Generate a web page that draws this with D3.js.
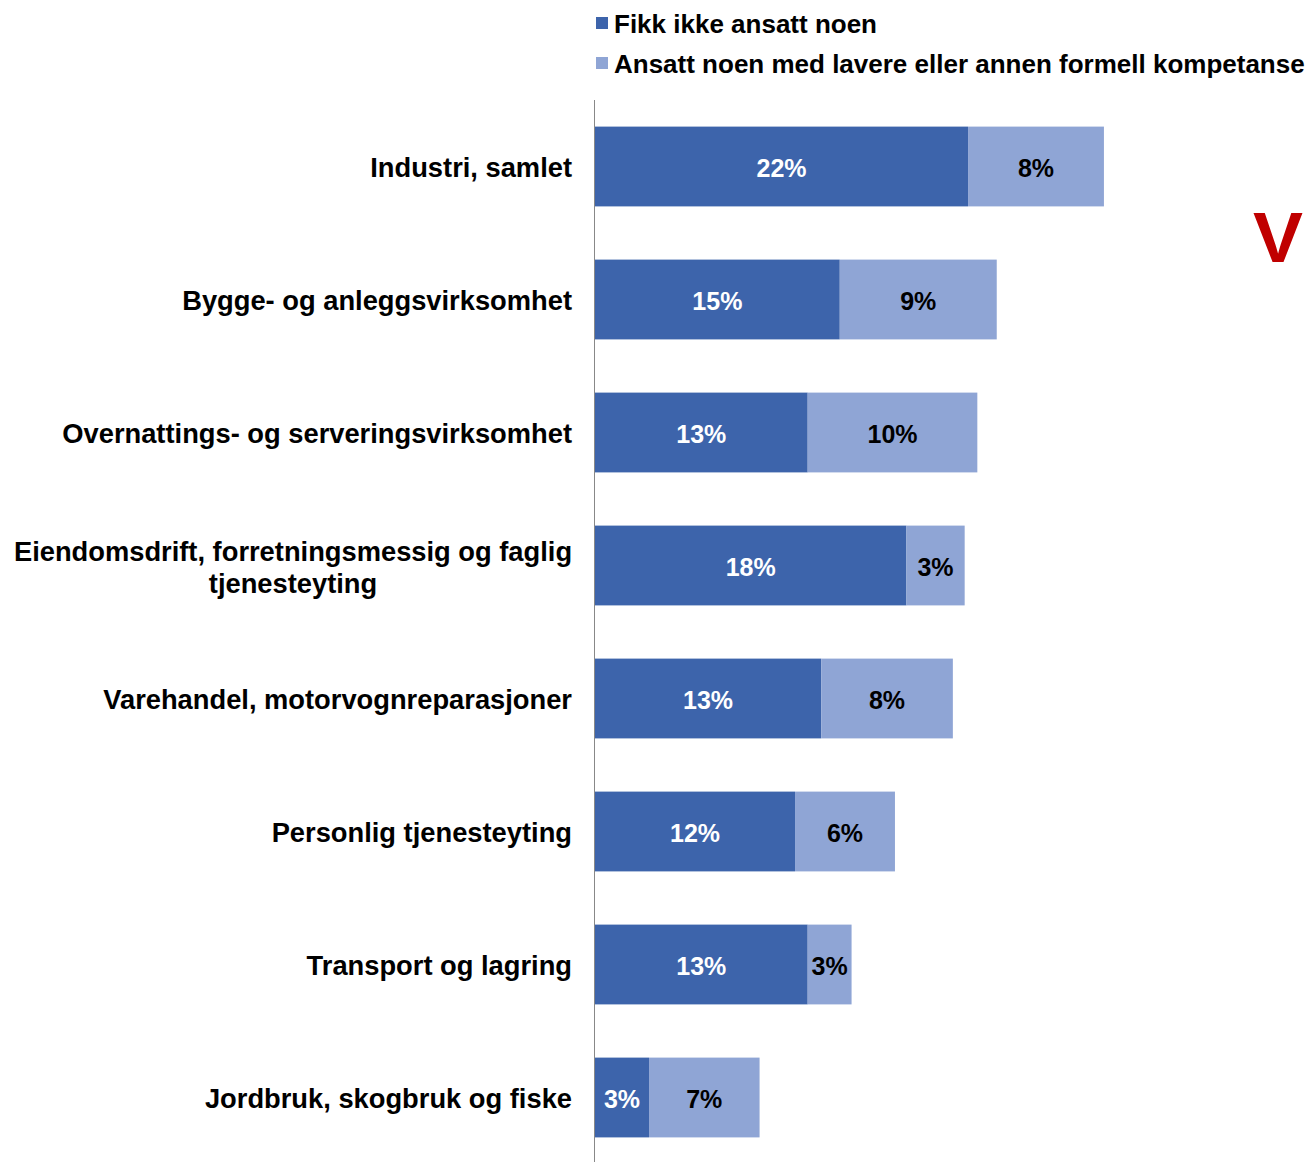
<!DOCTYPE html>
<html><head><meta charset="utf-8">
<script src="https://cdn.jsdelivr.net/npm/d3@7"></script>
<style>body{margin:0;background:#fff;} svg{display:block;}</style>
</head><body>
<script>
const categories = [
  "Industri, samlet",
  "Bygge- og anleggsvirksomhet",
  "Overnattings- og serveringsvirksomhet",
  "Eiendomsdrift, forretningsmessig og faglig\ntjenesteyting",
  "Varehandel, motorvognreparasjoner",
  "Personlig tjenesteyting",
  "Transport og lagring",
  "Jordbruk, skogbruk og fiske"
];
const seriesNames = ["Fikk ikke ansatt noen", "Ansatt noen med lavere eller annen formell kompetanse"];
const fikkIkke = [22.1, 14.5, 12.6, 18.45, 13.4, 11.85, 12.6, 3.2];
const ansattLavere = [8.05, 9.3, 10.05, 3.45, 7.8, 5.92, 2.6, 6.55];
const colors = ["#3D64AB", "#8FA5D5"];

const W = 1311, H = 1162;
const svg = d3.select("body").append("svg").attr("width", W).attr("height", H);
const font = "'Liberation Sans', Arial, sans-serif";

const x = d3.scaleLinear().domain([0, 40]).range([595, 595 + 40 * 16.88]);
const y = d3.scaleBand().domain(categories).range([100, 1164]).paddingInner(0.4).paddingOuter(0.2);

const rows = categories.map((c, i) => ({c, a: fikkIkke[i], b: ansattLavere[i]}));

// bars
const g = svg.append("g");
rows.forEach(r => {
  g.append("rect").attr("x", x(0)).attr("y", y(r.c)).attr("width", x(r.a) - x(0)).attr("height", y.bandwidth()).attr("fill", colors[0]);
  g.append("rect").attr("x", x(r.a)).attr("y", y(r.c)).attr("width", x(r.a + r.b) - x(r.a)).attr("height", y.bandwidth()).attr("fill", colors[1]);
  g.append("text").attr("x", (x(0) + x(r.a)) / 2).attr("y", y(r.c) + y.bandwidth() / 2 + 10)
    .attr("text-anchor", "middle").attr("font-family", font).attr("font-weight", "bold").attr("font-size", 25)
    .attr("fill", "#fff").text(Math.round(r.a) + "%");
  g.append("text").attr("x", (x(r.a) + x(r.a + r.b)) / 2).attr("y", y(r.c) + y.bandwidth() / 2 + 10)
    .attr("text-anchor", "middle").attr("font-family", font).attr("font-weight", "bold").attr("font-size", 25)
    .attr("fill", "#000").text(Math.round(r.b) + "%");
});

// axis line
svg.append("line").attr("x1", x(0) - 0.5).attr("x2", x(0) - 0.5).attr("y1", 100).attr("y2", H).attr("stroke", "#888").attr("stroke-width", 1);

// category labels
rows.forEach(r => {
  const lines = r.c.split("\n");
  const cy = y(r.c) + y.bandwidth() / 2;
  const t = svg.append("text").attr("font-family", font).attr("font-weight", "bold").attr("font-size", 27.3).attr("fill", "#000");
  if (lines.length === 1) {
    t.attr("x", 572).attr("y", cy + 10).attr("text-anchor", "end").text(lines[0]);
  } else {
    t.attr("text-anchor", "middle");
    lines.forEach((l, k) => {
      t.append("tspan").attr("x", 293).attr("y", cy - 5 + k * 32).text(l);
    });
  }
});

// legend
seriesNames.forEach((s, i) => {
  const ly = 24 + i * 40;
  svg.append("rect").attr("x", 596).attr("y", ly - 7).attr("width", 12).attr("height", 12).attr("fill", colors[i]);
  svg.append("text").attr("x", 614).attr("y", ly + 9).attr("font-family", font).attr("font-weight", "bold")
    .attr("font-size", 26).attr("fill", "#000").text(s);
});

// red V mark
svg.append("text").attr("x", 1253).attr("y", 262).attr("font-family", font).attr("font-weight", "bold")
  .attr("font-size", 70).attr("fill", "#C00000")
  .attr("textLength", 50).attr("lengthAdjust", "spacingAndGlyphs").text("V");
</script>
</body></html>
